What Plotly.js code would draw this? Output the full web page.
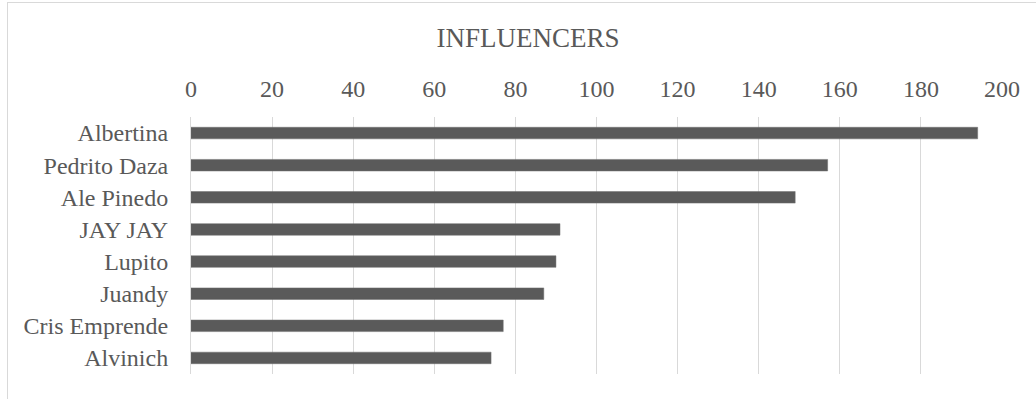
<!DOCTYPE html>
<html>
<head>
<meta charset="utf-8">
<script src="https://cdn.plot.ly/plotly-3.0.1.min.js"></script>
<style>
  html, body { margin: 0; padding: 0; background: #fff; }
  #wrap { position: relative; width: 1036px; height: 399px; overflow: hidden; }
  #chart { width: 1036px; height: 399px; }
  #frame { position: absolute; left: 7px; top: 2px; width: 1100px; height: 500px;
           border-left: 1px solid #d9d9d9; border-top: 1px solid #d9d9d9; pointer-events: none; }
</style>
</head>
<body>
<div id="wrap">
  <div id="chart"></div>
  <div id="frame"></div>
</div>
<script>
const influencers = ["Albertina", "Pedrito Daza", "Ale Pinedo", "JAY JAY", "Lupito", "Juandy", "Cris Emprende", "Alvinich"];
const values = [194, 157, 149, 91, 90, 87, 77, 74];
const tickValues = [0, 20, 40, 60, 80, 100, 120, 140, 160, 180, 200];
const chartTitle = "INFLUENCERS";

const font = "'Liberation Serif', serif";
const grey = "#595959";

Plotly.newPlot("chart", [{
  type: "bar",
  orientation: "h",
  y: influencers,
  x: values,
  marker: { color: "#5a5a5a", line: { color: "#6e6e6e", width: 0.5 } },
  width: 0.36,
  hoverinfo: "x+y"
}], {
  width: 1036,
  height: 399,
  margin: { l: 190.5, r: 34, t: 117, b: 25 },
  paper_bgcolor: "#fff",
  plot_bgcolor: "#fff",
  showlegend: false,
  font: { family: font, color: grey },
  title: {
    text: chartTitle,
    font: { family: font, size: 27, color: grey },
    x: 528 / 1036, xref: "container", xanchor: "center",
    y: 1 - 38 / 399, yref: "container", yanchor: "middle"
  },
  xaxis: {
    side: "top",
    range: [0, 200],
    tickvals: tickValues,
    ticktext: tickValues.map(String),
    showgrid: true,
    gridcolor: "#d9d9d9",
    gridwidth: 1,
    zeroline: false,
    showline: false,
    ticks: "",
    ticklabelstandoff: 14,
    tickfont: { family: font, size: 24, color: grey },
    fixedrange: true
  },
  yaxis: {
    autorange: "reversed",
    showgrid: false,
    zeroline: false,
    showline: true,
    linecolor: "#d9d9d9",
    linewidth: 1,
    ticks: "",
    ticklabelstandoff: 17,
    tickfont: { family: font, size: 24, color: grey },
    fixedrange: true
  }
}, { displayModeBar: false, staticPlot: true });
</script>
</body>
</html>
